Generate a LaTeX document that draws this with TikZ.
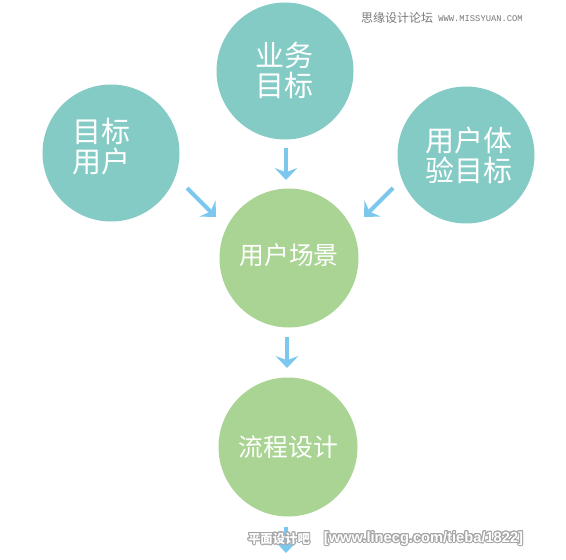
\documentclass[tikz,border=0pt]{standalone}
\usepackage{fontspec}
\setmainfont{Liberation Sans}
\setmonofont{Liberation Mono}
\newfontfamily\cjk{Noto Sans CJK SC}
\usepackage{contour}
\contourlength{0.7pt}
\usetikzlibrary{arrows.meta}
\definecolor{tealc}{HTML}{84CBC5}
\definecolor{greenc}{HTML}{AAD494}
\definecolor{arrc}{HTML}{7BC7EE}
\definecolor{wmgray}{HTML}{7A7A7A}
\begin{document}
\begin{tikzpicture}[x=0.75pt,y=-0.75pt,
  bubteal/.style={circle,inner sep=0pt,fill=tealc,minimum size=102.75pt},
  bubgreen/.style={circle,inner sep=0pt,fill=greenc,minimum size=104.25pt},
  bigtxt/.style={text=white,font=\cjk\fontsize{21.75}{22.5}\selectfont,align=left,inner sep=0pt},
  midtxt/.style={text=white,font=\cjk\fontsize{18.6}{22}\selectfont,inner sep=0pt},
  flow/.style={draw=arrc,line width=3pt,-{Stealth[length=9pt,width=17pt,inset=3.2pt]}}]
\useasboundingbox (0,0) rectangle (566,559);
\fill[white] (0,0) rectangle (566,559);
% bubbles
\node[bubteal] (goal) at (285,71) {};
\node[bubteal] (user) at (111,153) {};
\node[bubteal] (ux) at (466,155) {};
\node[bubgreen] (scene) at (289,258) {};
\node[bubgreen] (flowd) at (288,447) {};
% texts
\node[bigtxt] (goalt) at (284,70) {业务\\目标};
\node[bigtxt] (usert) at (101,147) {目标\\用户};
\node[bigtxt] (uxt) at (468.5,155) {用户体\\验目标};
\node[midtxt] (scenet) at (289,255) {用户场景};
\node[midtxt] (flowt) at (288.5,447) {流程设计};
% arrow end points
\coordinate (a1s) at (286,148); \coordinate (a1e) at (286,180);
\coordinate (a2s) at (187,188); \coordinate (a2e) at (216,217);
\coordinate (a3s) at (393,188); \coordinate (a3e) at (364,217);
\coordinate (a4s) at (287,337); \coordinate (a4e) at (287,368);
\coordinate (a5s) at (286,527); \coordinate (a5e) at (286,553);
\draw[flow] (a1s) -- (a1e);
\draw[flow] (a2s) -- (a2e);
\draw[flow] (a3s) -- (a3e);
\draw[flow] (a4s) -- (a4e);
\draw[flow] (a5s) -- (a5e);
% watermarks
\node[text=wmgray,font=\cjk\fontsize{9}{10}\selectfont,inner sep=0pt] (wm1) at (397,18) {思缘设计论坛};
\node[text=wmgray,font=\ttfamily\fontsize{6.6}{7}\selectfont,inner sep=0pt] (wm2) at (480.5,18.5) {WWW.MISSYUAN.COM};
\node[text=white,font=\cjk\bfseries\fontsize{9.3}{10}\selectfont,inner sep=0pt] (wm3) at (279,539) {\contour{gray!70}{平面设计吧}};
\node[text=white,font=\bfseries\fontsize{11}{12}\selectfont,inner sep=0pt] (wm4) at (423.5,539) {\contour{gray!70}{[www.linecg.com/tieba/1822]}};
\end{tikzpicture}
\end{document}
